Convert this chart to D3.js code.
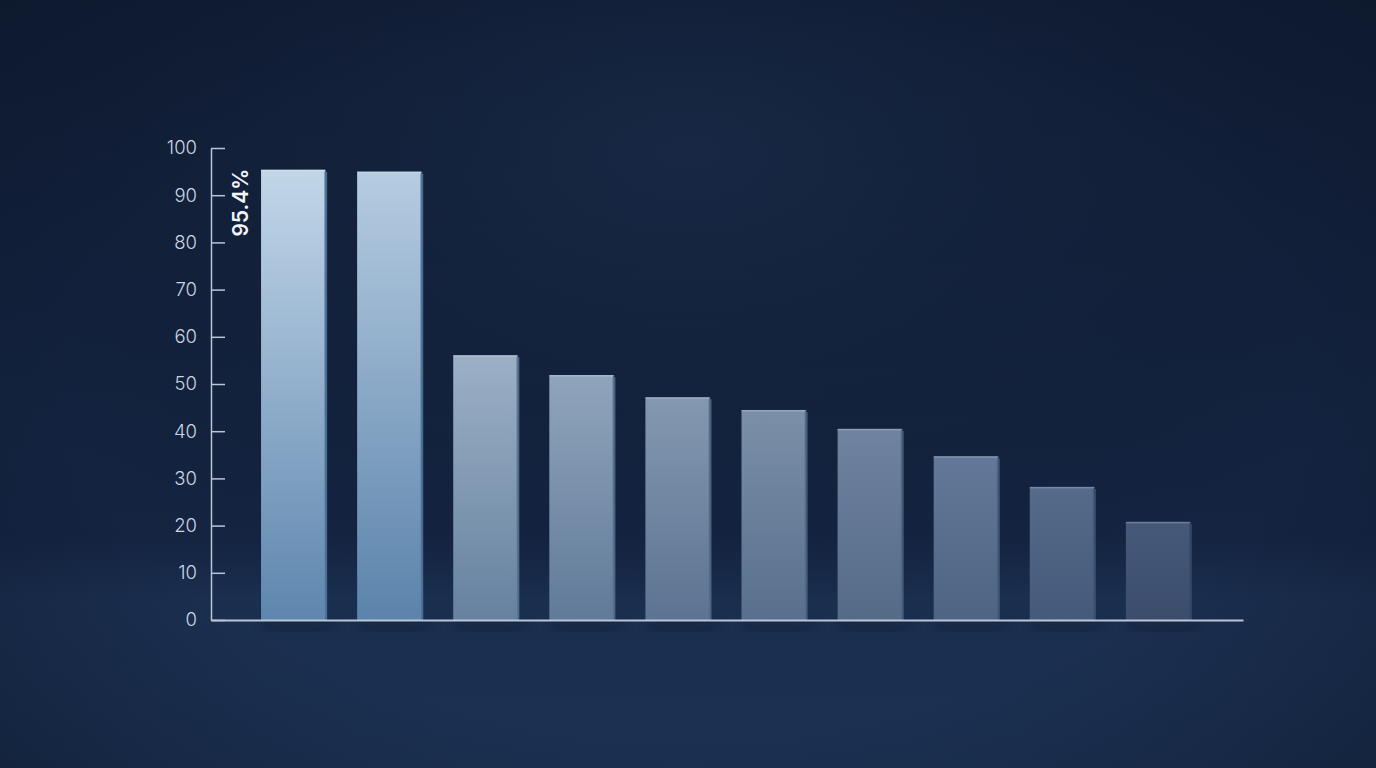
<!DOCTYPE html>
<html>
<head>
<meta charset="utf-8">
<script src="https://cdn.jsdelivr.net/npm/d3@7"></script>
<style>
  html, body { margin: 0; padding: 0; background: #111f38; overflow: hidden; }
  svg { display: block; }
</style>
</head>
<body>
<svg id="chart" width="1376" height="768"></svg>
<script>
// chart values
var categories = ["A", "B", "C", "D", "E", "F", "G", "H", "I", "J"];
var values = [95.4, 95.0, 56.1, 51.9, 47.2, 44.5, 40.5, 34.7, 28.2, 20.8];
var yTicks = [0, 10, 20, 30, 40, 50, 60, 70, 80, 90, 100];
var topColors = ["#c2d6e8", "#b6cce1", "#9cb0c6", "#90a5bc", "#8498b0", "#7b8fa8", "#7083a0", "#647999", "#566a8a", "#47597a"];
var bottomColors = ["#5e86ae", "#5b83ab", "#66829f", "#607a98", "#5c7492", "#58708d", "#546b88", "#4d6482", "#455a7a", "#3b4d6b"];
var highlightLabel = "95.4%";

var W = 1376, H = 768;
var svg = d3.select("#chart");
var defs = svg.append("defs");

// background
var bg = defs.append("linearGradient").attr("id", "bg")
    .attr("x1", 0).attr("y1", 0).attr("x2", 0).attr("y2", 1);
bg.append("stop").attr("offset", "0%").attr("stop-color", "#111e36");
bg.append("stop").attr("offset", "70%").attr("stop-color", "#142441");
bg.append("stop").attr("offset", "78%").attr("stop-color", "#1a2e4e");
bg.append("stop").attr("offset", "100%").attr("stop-color", "#1c3254");

var glow = defs.append("radialGradient").attr("id", "glow")
    .attr("cx", "50%").attr("cy", "20%").attr("r", "60%");
glow.append("stop").attr("offset", "0%").attr("stop-color", "#1c2e4c").attr("stop-opacity", 0.6);
glow.append("stop").attr("offset", "100%").attr("stop-color", "#0b1528").attr("stop-opacity", 0);

var vign = defs.append("radialGradient").attr("id", "vign")
    .attr("cx", "50%").attr("cy", "50%").attr("r", "75%");
vign.append("stop").attr("offset", "60%").attr("stop-color", "#0a1426").attr("stop-opacity", 0);
vign.append("stop").attr("offset", "100%").attr("stop-color", "#0a1426").attr("stop-opacity", 0.55);

svg.append("rect").attr("width", W).attr("height", H).attr("fill", "url(#bg)");
svg.append("rect").attr("width", W).attr("height", H).attr("fill", "url(#glow)");
svg.append("rect").attr("width", W).attr("height", H).attr("fill", "url(#vign)");

var margin = {left: 211, top: 148, right: 1243, bottom: 620};

var x = d3.scaleBand()
    .domain(categories)
    .range([213, 1238])
    .paddingInner(0.333)
    .paddingOuter(0.5);

var y = d3.scaleLinear()
    .domain([0, 100])
    .range([margin.bottom, margin.top]);

// bar gradients
categories.forEach(function(c, i) {
  var g = defs.append("linearGradient").attr("id", "bar" + i)
      .attr("x1", 0).attr("y1", 0).attr("x2", 0).attr("y2", 1);
  g.append("stop").attr("offset", "0%").attr("stop-color", topColors[i]);
  g.append("stop").attr("offset", "100%").attr("stop-color", bottomColors[i]);
});

var shadow = defs.append("filter").attr("id", "shadow")
    .attr("x", "-20%").attr("y", "-20%").attr("width", "140%").attr("height", "140%");
shadow.append("feGaussianBlur").attr("stdDeviation", 6);

var data = categories.map(function(c, i) { return {cat: c, v: values[i], i: i}; });

// floor shadow under bars
svg.append("g").selectAll("ellipse")
  .data(data).enter().append("ellipse")
    .attr("cx", function(d) { return x(d.cat) + x.bandwidth() / 2 + 6; })
    .attr("cy", y(0) + 5)
    .attr("rx", x.bandwidth() * 0.6)
    .attr("ry", 5)
    .attr("fill", "#08111f")
    .attr("opacity", 0.3)
    .attr("filter", "url(#shadow)");

var bars = svg.append("g").selectAll("g.bar")
  .data(data).enter().append("g").attr("class", "bar");

bars.append("rect")
    .attr("x", function(d) { return x(d.cat); })
    .attr("y", function(d) { return y(d.v); })
    .attr("width", x.bandwidth())
    .attr("height", function(d) { return y(0) - y(d.v); })
    .attr("fill", function(d) { return "url(#bar" + d.i + ")"; });

// side bevel
bars.append("rect")
    .attr("x", function(d) { return x(d.cat) + x.bandwidth() - 1; })
    .attr("y", function(d) { return y(d.v) + 2; })
    .attr("width", 3)
    .attr("height", function(d) { return y(0) - y(d.v) - 2; })
    .attr("fill", function(d) { return bottomColors[d.i]; })
    .attr("opacity", 0.75);

// top highlight
bars.append("rect")
    .attr("x", function(d) { return x(d.cat); })
    .attr("y", function(d) { return y(d.v); })
    .attr("width", x.bandwidth() + 1)
    .attr("height", 1.5)
    .attr("fill", "#ffffff")
    .attr("opacity", 0.22);

// axes
var yAxis = d3.axisLeft(y)
    .tickValues(yTicks)
    .tickSizeInner(-14)
    .tickSizeOuter(0)
    .tickPadding(14);

var gy = svg.append("g")
    .attr("transform", "translate(" + margin.left + ",0)")
    .call(yAxis);
gy.select(".domain").attr("stroke", "#b9c6d8").attr("stroke-width", 1.5);
gy.selectAll(".tick line").attr("stroke", "#b9c6d8").attr("stroke-width", 1.5);
gy.selectAll(".tick text")
    .attr("fill", "#cbd5e3")
    .attr("font-family", "Inter, 'Noto Sans', sans-serif")
    .attr("font-size", 18.5)
    .attr("font-weight", 300);

var xAxis = d3.axisBottom(d3.scaleLinear().range([margin.left, margin.right]))
    .ticks(0)
    .tickSizeOuter(0);
var gx = svg.append("g")
    .attr("transform", "translate(0," + y(0) + ")")
    .call(xAxis);
gx.select(".domain").attr("stroke", "#b9c6d8").attr("stroke-width", 2);

// value label on the first bar
svg.append("text")
    .attr("transform", "translate(" + (x(categories[0]) - 13) + "," + (y(values[0]) - 1) + ") rotate(-90)")
    .attr("text-anchor", "end")
    .attr("fill", "#f2f5fa")
    .attr("font-family", "Inter, 'Noto Sans', sans-serif")
    .attr("font-size", 21)
    .attr("font-weight", 600)
    .text(highlightLabel);
</script>
</body>
</html>
